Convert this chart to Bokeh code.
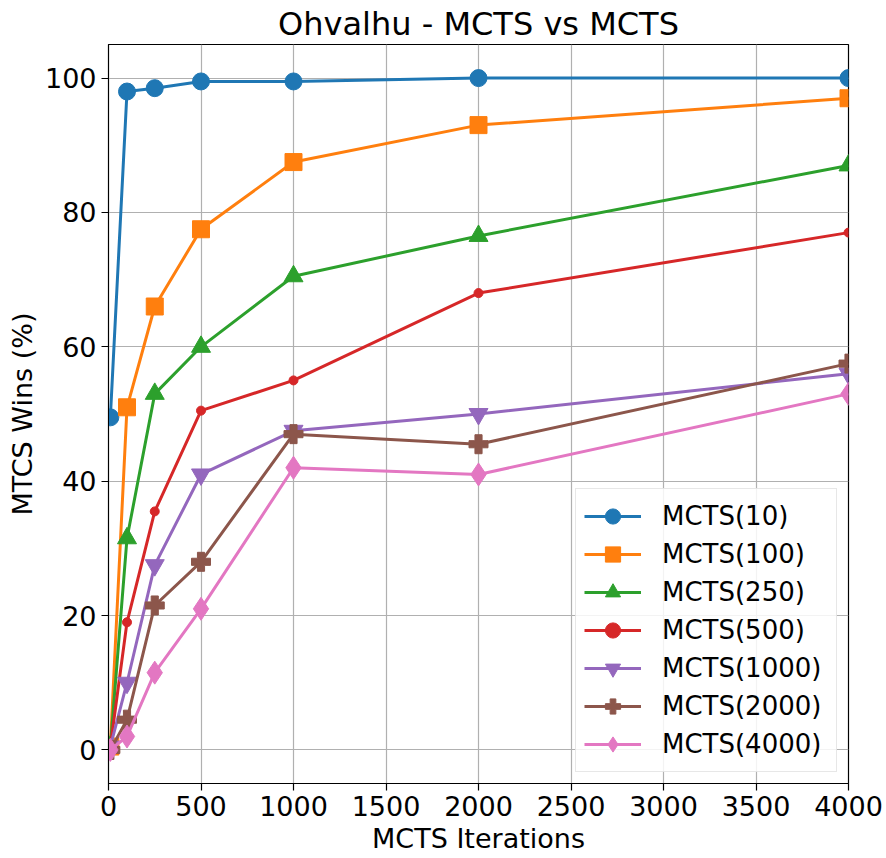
from bokeh.plotting import figure
from bokeh.models import Range1d, Legend, LegendItem, FixedTicker
from bokeh.embed import file_html
from bokeh.resources import INLINE

iterations = [10, 100, 250, 500, 1000, 2000, 4000]
series_names = ["MCTS(10)", "MCTS(100)", "MCTS(250)", "MCTS(500)", "MCTS(1000)", "MCTS(2000)", "MCTS(4000)"]
mcts_10 = [49.5, 98, 98.5, 99.5, 99.5, 100, 100]
mcts_100 = [0.5, 51, 66, 77.5, 87.5, 93, 97]
mcts_250 = [0.5, 31.5, 53, 60, 70.5, 76.5, 87]
mcts_500 = [0.5, 19, 35.5, 50.5, 55, 68, 77]
mcts_1000 = [0.5, 10, 27.5, 41, 47.5, 50, 56]
mcts_2000 = [0, 4.5, 21.5, 28, 47, 45.5, 57.5]
mcts_4000 = [0, 2, 11.5, 21, 42, 41, 53]
all_series = [mcts_10, mcts_100, mcts_250, mcts_500, mcts_1000, mcts_2000, mcts_4000]
x_ticks = [0, 500, 1000, 1500, 2000, 2500, 3000, 3500, 4000]
y_ticks = [0, 20, 40, 60, 80, 100]

colors = ["#1f77b4", "#ff7f0e", "#2ca02c", "#d62728", "#9467bd", "#8c564b", "#e377c2"]
markers = ["circle", "square", "triangle", "circle", "inverted_triangle", "plus", "diamond"]
sizes = [17, 17, 19, 9, 19, 19, 23]

p = figure(width=886, height=858, output_backend="svg", toolbar_location=None,
           x_range=Range1d(0, 4000), y_range=Range1d(-5, 105),
           title="Ohvalhu - MCTS vs MCTS")
p.min_border_left = 108
p.min_border_right = 38
p.min_border_bottom = 75
p.min_border_top = 0

p.title.text_font = "DejaVu Sans"
p.title.text_font_size = "32px"
p.title.text_font_style = "normal"
p.title.text_color = "black"
p.title.align = "center"
p.title.standoff = 4

p.outline_line_color = "black"
p.outline_line_width = 1.2
p.outline_line_alpha = 1

for ax in (p.xaxis[0], p.yaxis[0]):
    ax.axis_label_text_font = "DejaVu Sans"
    ax.axis_label_text_font_size = "27px"
    ax.axis_label_text_font_style = "normal"
    ax.axis_label_text_color = "black"
    ax.major_label_text_font = "DejaVu Sans"
    ax.major_label_text_font_size = "27px"
    ax.major_label_text_color = "black"
    ax.minor_tick_line_color = None
    ax.major_tick_out = 7
    ax.major_tick_in = 0
    ax.axis_line_color = "black"
    ax.major_tick_line_color = "black"
    ax.major_tick_line_width = 1.2

p.xaxis.axis_label = "MCTS Iterations"
p.yaxis.axis_label = "MTCS Wins (%)"
p.xaxis.ticker = FixedTicker(ticks=x_ticks)
p.yaxis.ticker = FixedTicker(ticks=y_ticks)
p.yaxis.major_label_orientation = "horizontal"
p.axis.axis_label_standoff = 4
p.axis.major_label_standoff = 5

p.grid.grid_line_color = "#b0b0b0"
p.grid.grid_line_width = 1.2
p.xgrid.ticker = FixedTicker(ticks=x_ticks)
p.ygrid.ticker = FixedTicker(ticks=y_ticks)

items = []
for name, ys, c, m, s in zip(series_names, all_series, colors, markers, sizes):
    ln = p.line(iterations, ys, line_color=c, line_width=3)
    mk = p.scatter(iterations, ys, marker=m, size=s, fill_color=c, line_color=c, line_width=1)
    items.append(LegendItem(label=name, renderers=[ln, mk]))

legend = Legend(items=items, location="bottom_right")
legend.label_text_font = "DejaVu Sans"
legend.label_text_font_size = "26px"
legend.label_text_color = "black"
legend.glyph_width = 57
legend.glyph_height = 38
legend.label_height = 30
legend.label_width = 166
legend.spacing = 0
legend.padding = 8
legend.margin = 11
legend.label_standoff = 21
legend.border_line_color = "#d0d0d0"
legend.border_line_width = 1.2
legend.background_fill_alpha = 0.85
p.add_layout(legend, "center")

open("out.html", "w").write(file_html(p, INLINE))
